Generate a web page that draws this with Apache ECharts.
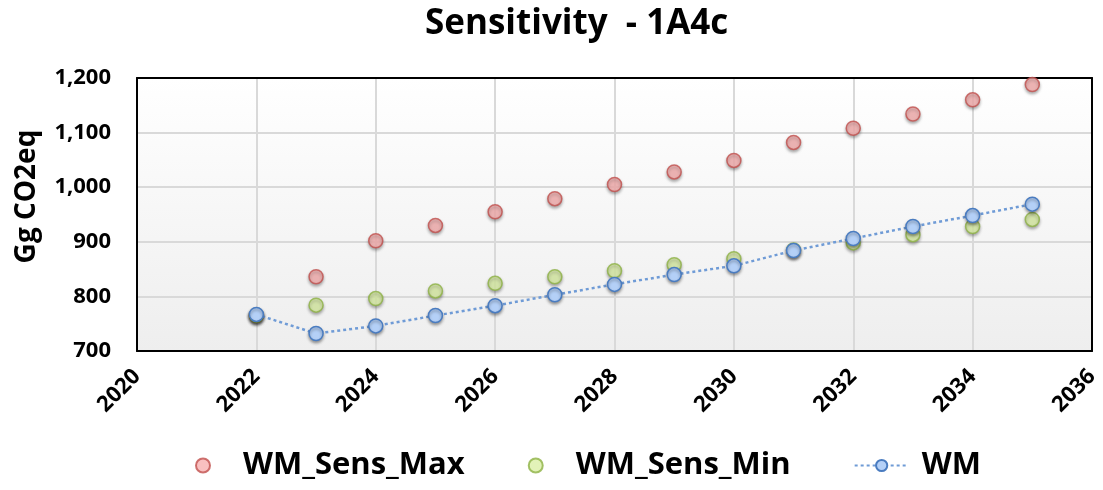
<!DOCTYPE html>
<html>
<head>
<meta charset="utf-8">
<script src="https://cdn.jsdelivr.net/npm/echarts@6/dist/echarts.min.js"></script>
<style>
  html, body { margin: 0; padding: 0; background: #fff; }
  #chart { width: 1103px; height: 490px; }
</style>
</head>
<body>
<div id="chart"></div>
<script>
// Projection years and emissions (Gg CO2eq) for sector 1A4c
const years = [2022, 2023, 2024, 2025, 2026, 2027, 2028, 2029, 2030, 2031, 2032, 2033, 2034, 2035];
const sensMax = [765, 836, 902, 930, 955, 979, 1005, 1028, 1049, 1082, 1108, 1134, 1160, 1188];
const sensMin = [765, 784, 796, 810, 824, 836, 847, 858, 869, 885, 898, 913, 928, 941];
const wm = [767, 732, 746, 765, 783, 803, 822, 840, 856, 884, 906, 928, 948, 969];
const yTicks = { min: 700, max: 1200, step: 100 };
const xTicks = { min: 2020, max: 2036, step: 2 };

const pair = vals => years.map((y, i) => [y, vals[i]]);
const FONT = '"Open Sans", "Noto Sans", sans-serif';
const frameLine = { show: true, lineStyle: { color: '#000', width: 2 } };
const gridLine = { show: true, showMinLine: false, showMaxLine: false, lineStyle: { color: '#d9d9d9', width: 2 } };

function marker(fill, stroke) {
  return {
    color: fill,
    borderColor: stroke,
    borderWidth: 1.5,
    shadowColor: 'rgba(0,0,0,0.35)',
    shadowBlur: 3,
    shadowOffsetY: 2
  };
}

// plain axes on the top and right edges that only close the plot frame
const frameAxis = (pos, ticks) => ({
  type: 'value', position: pos,
  min: ticks.min, max: ticks.max, interval: ticks.step,
  axisLine: frameLine, axisTick: { show: false }, axisLabel: { show: false }, splitLine: { show: false }
});

const chart = echarts.init(document.getElementById('chart'), null, { renderer: 'canvas' });
chart.setOption({
  animation: false,
  backgroundColor: '#ffffff',
  title: {
    text: 'Sensitivity  - 1A4c',
    left: 420,
    top: 2,
    textStyle: { fontFamily: FONT, fontSize: 35, fontWeight: 'bold', color: '#000' }
  },
  grid: {
    left: 137, right: 11, top: 78, bottom: 139,
    show: true,
    borderWidth: 0,
    backgroundColor: {
      type: 'linear', x: 0, y: 0, x2: 0, y2: 1,
      colorStops: [{ offset: 0, color: '#ffffff' }, { offset: 1, color: '#eeeeee' }]
    }
  },
  legend: {
    bottom: 4,
    left: 190,
    itemGap: 63,
    itemWidth: 54,
    itemHeight: 14,
    textStyle: { fontFamily: FONT, fontSize: 31, fontWeight: 'bold', color: '#000', padding: [0, 0, 0, 8] },
    data: ['WM_Sens_Max', 'WM_Sens_Min', 'WM']
  },
  xAxis: [
    {
      type: 'value',
      min: xTicks.min, max: xTicks.max, interval: xTicks.step,
      axisLine: frameLine,
      axisTick: { show: false },
      splitLine: gridLine,
      axisLabel: {
        rotate: 45, margin: 22,
        fontFamily: FONT, fontSize: 22, fontWeight: 'bold', color: '#000',
        formatter: v => String(v)
      }
    },
    frameAxis('top', xTicks)
  ],
  yAxis: [
    {
      type: 'value',
      min: yTicks.min, max: yTicks.max, interval: yTicks.step,
      name: 'Gg CO2eq',
      nameLocation: 'middle',
      nameGap: 96,
      nameRotate: 90,
      nameTextStyle: { fontFamily: FONT, fontSize: 28, fontWeight: 'bold', color: '#000', padding: [0, 0, 0, 36] },
      axisLine: frameLine,
      axisTick: { show: false },
      splitLine: gridLine,
      axisLabel: {
        margin: 26,
        fontFamily: FONT, fontSize: 22, fontWeight: 'bold', color: '#000',
        formatter: v => v.toLocaleString('en-US')
      }
    },
    frameAxis('right', yTicks)
  ],
  series: [
    {
      name: 'WM_Sens_Max', type: 'scatter', symbol: 'circle', symbolSize: 14,
      itemStyle: marker('#f7b0b0', '#c0504d'),
      data: pair(sensMax), z: 2
    },
    {
      name: 'WM_Sens_Min', type: 'scatter', symbol: 'circle', symbolSize: 14,
      itemStyle: marker('#dbefa6', '#8db245'),
      data: pair(sensMin), z: 3
    },
    {
      name: 'WM', type: 'line', symbol: 'circle', symbolSize: 14, showSymbol: true,
      lineStyle: { color: '#6f9bd6', width: 2.5, type: [3, 3] },
      itemStyle: marker('#b4d0f7', '#4a7cc0'),
      data: pair(wm), z: 4
    }
  ]
});
</script>
</body>
</html>
